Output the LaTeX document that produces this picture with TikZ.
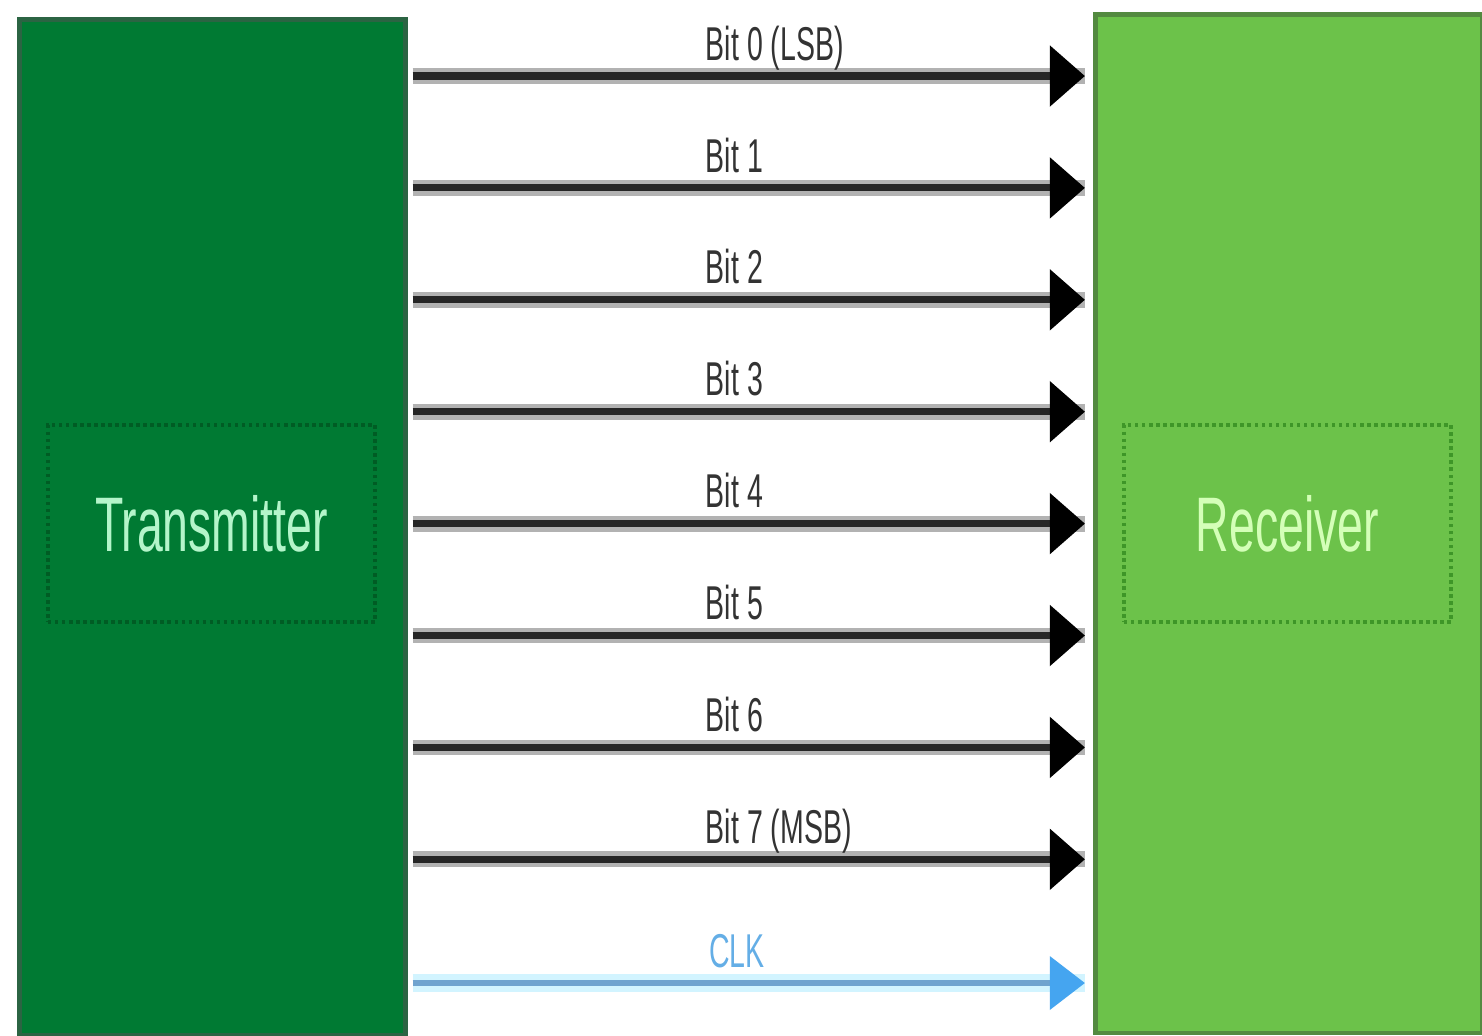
\documentclass[tikz,border=0pt]{standalone}
\usepackage{fontspec}
\setmainfont{Liberation Sans}
\newfontfamily\slimfont[FakeStretch=0.6]{Liberation Sans}
\usetikzlibrary{arrows.meta}
\definecolor{txfill}{HTML}{007A33}
\definecolor{txedge}{HTML}{2B6443}
\definecolor{txdash}{HTML}{005C24}
\definecolor{txtext}{HTML}{B4F5CA}
\definecolor{rxfill}{HTML}{6CC24A}
\definecolor{rxedge}{HTML}{538A40}
\definecolor{rxdash}{HTML}{3E9628}
\definecolor{rxtext}{HTML}{D4FFB8}
\definecolor{clkline}{HTML}{6FA3CF}
\definecolor{clktip}{HTML}{45A5F0}
\definecolor{clkhalo}{HTML}{D2F4FF}
\definecolor{clktext}{HTML}{64AEE6}
\begin{document}
\begin{tikzpicture}[x=0.01cm,y=-0.01cm,
box/.style={draw,line width=1.3pt,inner sep=0pt,anchor=north west},
title/.style={draw,densely dotted,line width=1pt,inner sep=0pt,minimum width=3.27cm,minimum height=1.97cm,font=\fontsize{22}{24}\selectfont\slimfont},
sig/.style={draw=black!85,line width=2pt,shorten <=1.4pt,shorten >=2.3pt,-{Triangle[length=10pt,width=17pt,color=black]},preaction={draw=black!30,line width=4.5pt,-}},
clk/.style={draw=clkline,line width=1.5pt,shorten <=1.4pt,shorten >=2.3pt,-{Triangle[length=10pt,width=15pt,color=clktip]},preaction={draw=clkhalo,line width=5pt,-}},
lbl/.style={pos=0.43,anchor=base west,yshift=4.5pt,inner sep=0pt,font=\fontsize{13.5}{16}\selectfont\slimfont}]
\useasboundingbox[fill=white](0,0)rectangle(1482,1035);
% the two ends
\node[box,fill=txfill,draw=txedge,minimum width=3.86cm,minimum height=10.15cm](tx)at(17,17){};
\node[box,fill=rxfill,draw=rxedge,minimum width=3.87cm,minimum height=10.18cm](rx)at(1093,12){};
\node[title,draw=txdash,text=txtext](txname)at(211.5,523.5){Transmitter};
\node[title,draw=rxdash,text=rxtext](rxname)at(1287.5,523.5){Receiver};
% data lines
\foreach \lbl [count=\i from 0] in {Bit 0 (LSB),Bit 1,Bit 2,Bit 3,Bit 4,Bit 5,Bit 6,Bit 7 (MSB)}{
\coordinate(b\i)at(0,76+111.9*\i);
\draw[sig](tx.east|-b\i)--(rx.west|-b\i)node[lbl,text=black!80]{\lbl};
}
% clock line
\coordinate(c)at(0,983);
\draw[clk](tx.east|-c)--(rx.west|-c)node[lbl,text=clktext,xshift=1.2pt]{CLK};
\end{tikzpicture}
\end{document}
